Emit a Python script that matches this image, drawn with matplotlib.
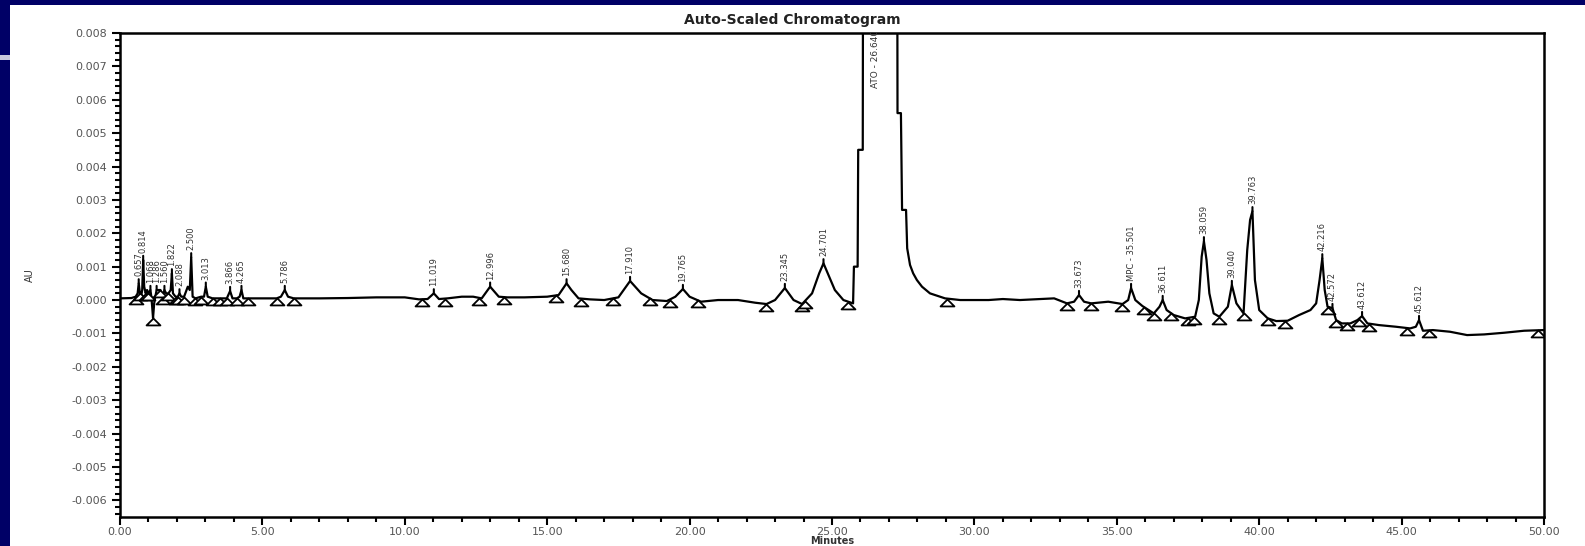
import matplotlib
matplotlib.use('Agg')
import numpy as np
import matplotlib.pyplot as plt
from matplotlib.patches import Rectangle
from matplotlib.path import Path
from matplotlib.ticker import MultipleLocator, FormatStrFormatter

# trace (minutes, AU), split by region
rt_early = [0.00, 0.40, 0.55, 0.62, 0.657, 0.70, 0.74, 0.78, 0.814, 0.85, 0.90, 0.95, 1.00, 1.068, 1.10,
            1.13, 1.16, 1.20, 1.24, 1.286, 1.33, 1.42, 1.50, 1.56, 1.62, 1.70, 1.78, 1.822, 1.86, 1.95,
            2.03, 2.088, 2.15, 2.25, 2.38, 2.45, 2.50, 2.55, 2.65, 2.85, 2.95, 3.013, 3.08, 3.25, 3.50,
            3.75, 3.866, 3.95, 4.10, 4.20, 4.265, 4.33, 4.50, 5.00, 5.50, 5.65, 5.786, 5.90, 6.10]
au_early = [0.00005, 0.00006, 0.0001, 0.0002, 0.0005, 0.0002, 0.0001, 0.0003, 0.0012, 0.0004, 0.0002, 0.0003, 0.0002, 0.0003, 0.0001,
            -0.0002, -0.00054, -0.0001, 0.0001, 0.0003, 0.0003, 0.0003, 0.0001, 0.0003, 0.0002, 0.0002, 0.0003, 0.0008, 0.0002, 0.0001,
            0.0001, 0.0002, 0.0001, 0.0001, 0.0004, 0.0003, 0.00128, 0.0001, 0.00005, 0.0001, 0.0001, 0.0004, 0.0001, 0.00005, 0.00005,
            0.00005, 0.00027, 0.00005, 0.00005, 0.0001, 0.0003, 0.00005, 0.00005, 0.00005, 0.00005, 0.0001, 0.0003, 0.0001, 0.00005]

rt_mid = [7.00, 8.00, 9.00, 10.00, 10.50, 10.80, 11.019, 11.20, 11.50, 12.00, 12.40, 12.70, 12.996, 13.30, 13.60,
          14.20, 15.00, 15.40, 15.68, 15.85, 16.10, 16.50, 17.00, 17.50, 17.91, 18.30, 18.70, 19.20, 19.50, 19.765,
          20.00, 20.40, 21.00, 21.70, 22.30, 22.70, 23.00, 23.345, 23.65, 23.95, 24.30, 24.55, 24.701, 24.85, 25.10,
          25.40, 25.74]
au_mid = [0.00005, 0.00006, 0.00008, 0.00008, 0.00002, 0.00003, 0.0002, 0.00003, 0.00005, 0.0001, 0.0001, 0.00005, 0.0004, 0.0001, 0.00008,
          0.00008, 0.0001, 0.00015, 0.0005, 0.0003, 0.00005, 0.00002, 0.0, 0.00008, 0.00057, 0.0002, 0.0, -0.00003, 0.0001, 0.00033,
          0.0001, -0.00005, 0.0, 0.0, -0.00008, -0.00012, 0.0, 0.00036, 0.0, -0.00012, 0.0002, 0.0008, 0.0011, 0.0008, 0.0003,
          0.0, -0.0001]

rt_ato = [25.77, 25.90, 25.92, 26.08, 26.12, 26.64, 27.26, 27.30, 27.42, 27.46, 27.60, 27.64, 27.74, 27.85, 27.98,
          28.16, 28.44, 28.97, 29.50]
au_ato = [0.0010, 0.0010, 0.0045, 0.0045, 0.0300, 0.0330, 0.0300, 0.0056, 0.0056, 0.0027, 0.0027, 0.00155, 0.00105, 0.0008, 0.0006,
          0.0004, 0.0002, 0.00005, 0.0]

rt_late = [30.50, 31.00, 31.60, 32.30, 32.80, 33.25, 33.50, 33.673, 33.85, 34.10, 34.70, 35.20, 35.40, 35.501, 35.65,
           35.90, 36.30, 36.50, 36.611, 36.75, 37.00, 37.40, 37.75, 37.88, 37.98, 38.059, 38.15, 38.25, 38.40, 38.60,
           38.90, 39.040, 39.20, 39.45, 39.58, 39.68, 39.763, 39.85, 40.00, 40.30, 40.60, 41.00, 41.40, 41.80, 42.00,
           42.12, 42.216, 42.30, 42.40, 42.572, 42.70, 42.90, 43.20, 43.45, 43.612, 43.80, 44.20, 44.80, 45.30, 45.50,
           45.612, 45.75, 46.10, 46.70, 47.30, 47.90, 48.60, 49.30, 50.00]
au_late = [0.0, 0.00003, 0.0, 0.00003, 0.00005, -0.0001, -0.00005, 0.00015, -0.00005, -0.0001, -0.00005, -0.00012, 0.0, 0.00036, 0.0,
           -0.00018, -0.0004, -0.0002, 0.0, -0.0003, -0.00045, -0.00055, -0.0005, 0.0, 0.0013, 0.00176, 0.0012, 0.0002, -0.0004, -0.0005,
           -0.0002, 0.00045, -0.0001, -0.0004, 0.0015, 0.0024, 0.00266, 0.0006, -0.0003, -0.00055, -0.00063, -0.00062, -0.00045, -0.0003, -0.0001,
           0.0006, 0.00125, 0.0003, -0.0002, -0.00024, -0.0006, -0.0007, -0.0007, -0.0006, -0.00048, -0.0007, -0.00075, -0.0008, -0.00085, -0.0008,
           -0.0006, -0.00092, -0.0009, -0.00095, -0.00105, -0.00103, -0.00098, -0.00092, -0.0009]

# integrated peaks (retention time labels)
peak_rt = [0.657, 0.814, 1.068, 1.286, 1.560, 1.822, 2.088, 2.500, 3.013, 3.866, 4.265, 5.786,
           11.019, 12.996, 15.680, 17.910, 19.765, 23.345, 24.701,
           33.673, 35.501, 36.611, 38.059, 39.040, 39.763, 42.216, 42.572, 43.612, 45.612]
peak_names = {35.501: 'MPC - 35.501'}
ato_rt = 26.640

# peak start/stop markers
tri_rt = [0.55, 0.70, 0.90, 1.00, 1.16, 1.42, 1.50, 1.70, 1.95, 2.03, 2.25, 2.65, 2.85, 3.25, 3.50,
          3.75, 4.10, 4.50, 5.50, 6.10, 10.60, 11.40, 12.60, 13.50, 15.30, 16.20, 17.30, 18.60, 19.30,
          20.30, 22.70, 23.95, 24.05, 25.55, 29.05, 33.25, 34.10, 35.20, 35.95, 36.30, 36.90, 37.50,
          37.70, 38.60, 39.45, 40.30, 40.90, 42.40, 42.70, 43.10, 43.50, 43.85, 45.20, 45.95, 49.80]

rt = np.array(rt_early + rt_mid + rt_ato + rt_late)
au = np.array(au_early + au_mid + au_ato + au_late)

fig = plt.figure(figsize=(15.85, 5.46), dpi=100, facecolor='#000066')
fig.add_artist(Rectangle((10/1585, 0), 1 - 10/1585, 1 - 5/546, transform=fig.transFigure,
                         facecolor='white', edgecolor='none', zorder=-2))
fig.add_artist(Rectangle((0, 1 - 60/546), 10/1585, 5/546, transform=fig.transFigure,
                         facecolor='#c8c8dc', edgecolor='none', zorder=-1))

ax = fig.add_axes([120/1585, 1 - 517/546, (1544 - 120)/1585, (517 - 33)/546])
ax.plot(rt, au, color='black', lw=1.6, zorder=2)

# hollow triangles hanging below the baseline points
tri = Path([(0, 0), (-1, -1), (1, -1), (0, 0)], [Path.MOVETO, Path.LINETO, Path.LINETO, Path.CLOSEPOLY])
ax.plot(tri_rt, np.interp(tri_rt, rt, au), ls='none', marker=tri, ms=10,
        mfc='white', mec='black', mew=1.3, zorder=3)

for p in peak_rt:
    lab = peak_names.get(p, '%.3f' % p)
    ax.annotate(lab, xy=(p, np.interp(p, rt, au)), xytext=(0, 5), textcoords='offset points',
                rotation=90, ha='center', va='bottom', fontsize=6, color='#333333',
                arrowprops=dict(arrowstyle='-', lw=1.5, color='black', shrinkA=0, shrinkB=0))
ax.text(ato_rt - 0.1, 0.0081, 'ATO - %.3f' % ato_rt, rotation=90, ha='center', va='top',
        fontsize=6.5, color='#333333', clip_on=True)

ax.set_xlim(0, 50)
ax.set_ylim(-0.0065, 0.008)
ax.xaxis.set_major_locator(MultipleLocator(5))
ax.xaxis.set_minor_locator(MultipleLocator(1))
ax.yaxis.set_major_locator(MultipleLocator(0.001))
ax.yaxis.set_minor_locator(MultipleLocator(0.0002))
ax.xaxis.set_major_formatter(FormatStrFormatter('%.2f'))
ax.yaxis.set_major_formatter(FormatStrFormatter('%.3f'))
ax.tick_params(which='major', direction='out', length=6, width=1.5, labelsize=8, labelcolor='#555555')
ax.tick_params(axis='x', which='major', pad=1.5)
ax.tick_params(which='minor', direction='out', length=3.5, width=1.5)
for s in ax.spines.values():
    s.set_linewidth(1.8)

fig.text(0.5, 1 - 20/546, 'Auto-Scaled Chromatogram', ha='center', va='center',
         fontsize=10, fontweight='bold', color='#222222')
fig.text(30/1585, 1 - 275/546, 'AU', rotation=90, ha='center', va='center', fontsize=7, color='#333333')
fig.text(832/1585, 1 - 541/546, 'Minutes', ha='center', va='center', fontsize=7,
         fontweight='bold', color='#333333')

plt.savefig('out.png', dpi=100, facecolor=fig.get_facecolor())
